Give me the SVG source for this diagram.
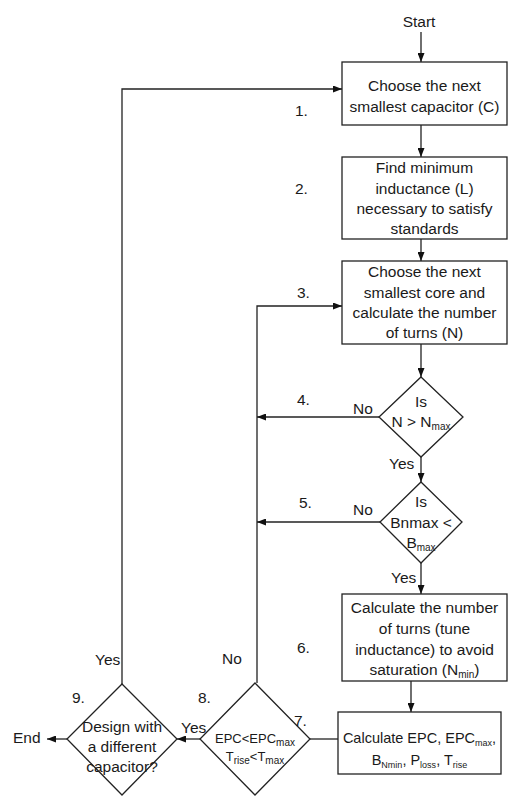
<svg xmlns="http://www.w3.org/2000/svg" width="529" height="802" viewBox="0 0 529 802">
<defs>
<marker id="ah" markerWidth="9" markerHeight="7" refX="9" refY="3.5" orient="auto" markerUnits="userSpaceOnUse">
<path d="M0,0 L9,3.5 L0,7 Z" fill="#111"/>
</marker>
<style>
.box{fill:#fff;stroke:#222;stroke-width:1.3}
.ln{fill:none;stroke:#222;stroke-width:1.3}
.arr{fill:none;stroke:#222;stroke-width:1.3;marker-end:url(#ah)}
text{font-family:"Liberation Sans",Arial,sans-serif;font-size:15.5px;fill:#1a1a1a}
.c{text-anchor:middle}
.sm{font-size:13px}
.m{font-size:14.5px}
.sub{font-size:10px}
.sub9{font-size:9px}
</style>
</defs>
<rect width="529" height="802" fill="#fff"/>
<g id="connectors">
<path class="arr" d="M421,32 V62"/>
<path class="arr" d="M421,125 V157"/>
<path class="arr" d="M421,239 V261"/>
<path class="arr" d="M421,344 V377"/>
<path class="arr" d="M421,457 V482"/>
<path class="arr" d="M421,563 V594"/>
<path class="arr" d="M411,681 V712"/>
<path class="ln" d="M338,739 H310"/>
<path class="arr" d="M200,739 H177"/>
<path class="arr" d="M67,739 H47"/>
<path class="arr" d="M122,684 V89 H342"/>
<path class="arr" d="M257,683 V306 H342"/>
<path class="arr" d="M379,417 H257"/>
<path class="arr" d="M380,522 H257"/>
</g>
<g id="start"><text class="c" x="419" y="27">Start</text></g>
<g id="box1">
<rect class="box" x="342" y="62" width="165" height="63"/>
<text class="c" x="424.5" y="91">Choose the next</text>
<text class="c" x="424.5" y="111.5">smallest capacitor (C)</text>
</g>
<g id="box2">
<rect class="box" x="342" y="157" width="165" height="82"/>
<text class="c" x="424.5" y="173">Find minimum</text>
<text class="c" x="424.5" y="193.5">inductance (L)</text>
<text class="c" x="424.5" y="213.5">necessary to satisfy</text>
<text class="c" x="424.5" y="233.5">standards</text>
</g>
<g id="box3">
<rect class="box" x="342" y="261" width="165" height="83"/>
<text class="c" x="424.5" y="277">Choose the next</text>
<text class="c" x="424.5" y="297.5">smallest core and</text>
<text class="c" x="424.5" y="318">calculate the number</text>
<text class="c" x="424.5" y="338">of turns (N)</text>
</g>
<g id="d1">
<polygon class="box" points="421,377 463,417 421,457 379,417"/>
<text class="c" x="421" y="407">Is</text>
<text class="c" x="421" y="427">N &gt; N<tspan class="sub" dy="3">max</tspan></text>
</g>
<g id="d2">
<polygon class="box" points="421,482 462,522 421,563 380,522"/>
<text class="c" x="421" y="507">Is</text>
<text class="c" x="421" y="527.5">Bnmax &lt;</text>
<text class="c" x="421" y="548">B<tspan class="sub" dy="3">max</tspan></text>
</g>
<g id="box4">
<rect class="box" x="342" y="594" width="165" height="87"/>
<text class="c" x="424.5" y="613">Calculate the number</text>
<text class="c" x="424.5" y="634">of turns (tune</text>
<text class="c" x="424.5" y="654.5">inductance) to avoid</text>
<text class="c" x="424.5" y="675">saturation (N<tspan class="sub" dy="3">min</tspan><tspan dy="-3">)</tspan></text>
</g>
<g id="box5">
<rect class="box" x="338" y="712" width="163" height="62"/>
<text class="c m" x="419.5" y="743">Calculate EPC, EPC<tspan class="sub9" dy="3">max</tspan><tspan dy="-3">,</tspan></text>
<text class="c m" x="419.5" y="765">B<tspan class="sub9" dy="3">Nmin</tspan><tspan dy="-3">, P</tspan><tspan class="sub9" dy="3">loss</tspan><tspan dy="-3">, T</tspan><tspan class="sub9" dy="3">rise</tspan></text>
</g>
<g id="d3">
<polygon class="box" points="255,683 310,739 255,795 200,739"/>
<text class="c sm" x="255" y="743">EPC&lt;EPC<tspan class="sub" dy="3">max</tspan></text>
<text class="c sm" x="255" y="761">T<tspan class="sub" dy="3">rise</tspan><tspan dy="-3">&lt;T</tspan><tspan class="sub" dy="3">max</tspan></text>
</g>
<g id="d4">
<polygon class="box" points="122,684 177,739 122,795 67,739"/>
<text class="c" x="122" y="732">Design with</text>
<text class="c" x="122" y="752">a different</text>
<text class="c" x="122" y="772">capacitor?</text>
</g>
<g id="end"><text x="13" y="743">End</text></g>
<g id="labels">
<text x="295" y="116">1.</text>
<text x="295" y="194">2.</text>
<text x="297" y="298">3.</text>
<text x="297" y="405">4.</text>
<text x="299" y="508">5.</text>
<text x="297" y="653">6.</text>
<text x="294" y="726">7.</text>
<text x="198" y="703">8.</text>
<text x="72" y="703">9.</text>
<text x="353" y="414">No</text>
<text x="353" y="515">No</text>
<text x="389" y="469">Yes</text>
<text x="391" y="583">Yes</text>
<text x="222" y="664">No</text>
<text x="95" y="665">Yes</text>
<text x="181" y="733">Yes</text>
</g>
</svg>
